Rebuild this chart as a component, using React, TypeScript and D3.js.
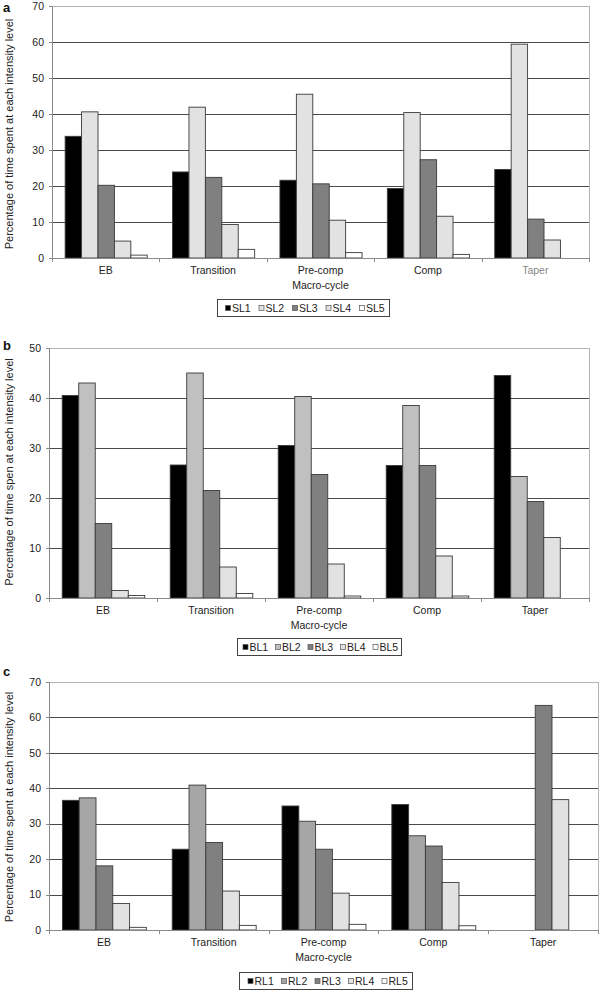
import React from "react";
import * as d3 from "d3";

const categories = ["EB", "Transition", "Pre-comp", "Comp", "Taper"];

const slLabels = ["SL1", "SL2", "SL3", "SL4", "SL5"];
const sl1 = [33.8, 23.9, 21.6, 19.3, 24.6];
const sl2 = [40.6, 41.9, 45.5, 40.4, 59.4];
const sl3 = [20.2, 22.4, 20.6, 27.3, 10.8];
const sl4 = [4.7, 9.3, 10.5, 11.6, 5.0];
const sl5 = [0.8, 2.4, 1.5, 1.0, 0];

const blLabels = ["BL1", "BL2", "BL3", "BL4", "BL5"];
const bl1 = [40.5, 26.6, 30.5, 26.5, 44.5];
const bl2 = [43.0, 45.0, 40.3, 38.5, 24.3];
const bl3 = [14.9, 21.5, 24.7, 26.5, 19.3];
const bl4 = [1.5, 6.2, 6.8, 8.4, 12.1];
const bl5 = [0.5, 0.9, 0.4, 0.4, 0];

const rlLabels = ["RL1", "RL2", "RL3", "RL4", "RL5"];
const rl1 = [36.6, 22.8, 35.0, 35.4, 0];
const rl2 = [37.3, 40.9, 30.7, 26.6, 0];
const rl3 = [18.1, 24.7, 22.8, 23.7, 63.4];
const rl4 = [7.5, 11.0, 10.4, 13.4, 36.8];
const rl5 = [0.75, 1.3, 1.6, 1.2, 0];

const yTicksA = [0, 10, 20, 30, 40, 50, 60, 70];
const yTicksB = [0, 10, 20, 30, 40, 50];
const yTicksC = [0, 10, 20, 30, 40, 50, 60, 70];

const FONT = "'Liberation Sans', Arial, sans-serif";

type PanelProps = {
  letter: string;
  yTitle: string;
  labels: string[];
  series: number[][];
  colors: string[];
  ticks: number[];
  left: number;
  right: number;
  top: number;
  bottom: number;
  legendX: number;
  legendW: number;
  legendY: number;
  legendPad: number;
  legendStep: number;
  titleY: number;
  letterY: number;
  taperColor: string;
};

function Panel(p: PanelProps) {
  const yMax = p.ticks[p.ticks.length - 1];
  const y = d3.scaleLinear().domain([0, yMax]).range([p.bottom, p.top]);
  const x = d3.scaleBand<string>().domain(categories).range([p.left, p.right]).padding(0);
  const xi = d3
    .scaleBand<string>()
    .domain(p.labels)
    .range([0, x.bandwidth()])
    .paddingInner(0)
    .paddingOuter(0.77);
  const cx = (p.left + p.right) / 2;
  return (
    <g>
      <text x={3} y={p.letterY} fontFamily={FONT} fontWeight="bold" fontSize={13} fill="#111">
        {p.letter}
      </text>
      <rect
        x={p.left + 0.5}
        y={Math.round(p.top) + 0.5}
        width={p.right - p.left}
        height={p.bottom - p.top}
        fill="white"
        stroke="#b5b5b5"
      />
      {p.ticks
        .filter((t) => t > 0 && t < yMax)
        .map((t) => (
          <line
            key={t}
            x1={p.left}
            x2={p.right}
            y1={Math.round(y(t)) + 0.5}
            y2={Math.round(y(t)) + 0.5}
            stroke="#4a4a4a"
            strokeWidth={1}
          />
        ))}
      {categories.map((c, ci) =>
        p.series.map((s, si) =>
          s[ci] > 0 ? (
            <rect
              key={c + si}
              x={(x(c) as number) + (xi(p.labels[si]) as number) + 0.5}
              y={y(s[ci])}
              width={xi.bandwidth()}
              height={p.bottom - y(s[ci])}
              fill={p.colors[si]}
              stroke="#3a3a3a"
              strokeWidth={0.9}
            />
          ) : null
        )
      )}
      <line x1={p.left + 0.5} x2={p.left + 0.5} y1={p.top} y2={p.bottom} stroke="#8a8a8a" />
      {p.ticks.map((t) => (
        <g key={"t" + t}>
          <line
            x1={p.left - 3}
            x2={p.left}
            y1={Math.round(y(t)) + 0.5}
            y2={Math.round(y(t)) + 0.5}
            stroke="#8a8a8a"
          />
          <text
            x={p.left - 8}
            y={y(t)}
            dy="0.35em"
            textAnchor="end"
            fontFamily={FONT}
            fontSize={10.5}
            fill="#222"
          >
            {t}
          </text>
        </g>
      ))}
      <line
        x1={p.left}
        x2={p.right + 1}
        y1={Math.round(p.bottom) + 0.5}
        y2={Math.round(p.bottom) + 0.5}
        stroke="#8a8a8a"
      />
      {[...categories.map((c) => x(c) as number), p.right].map((v, i) => (
        <line
          key={"xt" + i}
          x1={Math.round(v) + 0.5}
          x2={Math.round(v) + 0.5}
          y1={p.bottom}
          y2={p.bottom + 4}
          stroke="#8a8a8a"
        />
      ))}
      {categories.map((c) => (
        <text
          key={"xl" + c}
          x={(x(c) as number) + x.bandwidth() / 2}
          y={p.bottom + 16}
          textAnchor="middle"
          fontFamily={FONT}
          fontSize={10.5}
          fill={c === "Taper" ? p.taperColor : "#222"}
        >
          {c}
        </text>
      ))}
      <text
        x={cx}
        y={p.bottom + 31}
        textAnchor="middle"
        fontFamily={FONT}
        fontSize={10.5}
        fill="#222"
      >
        Macro-cycle
      </text>
      <text
        transform={`translate(13,${p.titleY}) rotate(-90)`}
        textAnchor="middle"
        fontFamily={FONT}
        fontSize={11}
        fill="#222"
      >
        {p.yTitle}
      </text>
      <rect
        x={p.legendX + 0.5}
        y={p.legendY + 0.5}
        width={p.legendW}
        height={17}
        fill="white"
        stroke="#444"
      />
      {p.labels.map((l, i) => (
        <g
          key={"lg" + l}
          transform={`translate(${p.legendX + p.legendPad + i * p.legendStep},${p.legendY + 9})`}
        >
          <rect x={0.5} y={-2.5} width={5} height={5} fill={p.colors[i]} stroke="#555" strokeWidth={0.7} />
          <text x={7} y={0} dy="0.35em" fontFamily={FONT} fontSize={10.5} fill="#222">
            {l}
          </text>
        </g>
      ))}
    </g>
  );
}

export default function App() {
  return (
    <svg
      width={600}
      height={993}
      style={{ position: "absolute", left: 0, top: 0, background: "white" }}
    >
      <rect width={600} height={993} fill="white" />
      <Panel
        letter="a"
        yTitle="Percentage of time spent at each intensity level"
        labels={slLabels}
        series={[sl1, sl2, sl3, sl4, sl5]}
        colors={["#000000", "#e2e2e2", "#808080", "#e2e2e2", "#ffffff"]}
        ticks={yTicksA}
        left={52}
        right={589}
        top={6}
        bottom={258}
        legendX={217}
        legendW={172}
        legendY={299}
        legendPad={8}
        legendStep={33.5}
        titleY={134}
        letterY={12}
        taperColor="#888"
      />
      <Panel
        letter="b"
        yTitle="Percentage of time spen at each intensity level"
        labels={blLabels}
        series={[bl1, bl2, bl3, bl4, bl5]}
        colors={["#000000", "#c0c0c0", "#808080", "#e2e2e2", "#ffffff"]}
        ticks={yTicksB}
        left={49}
        right={589}
        top={348}
        bottom={598}
        legendX={237}
        legendW={164}
        legendY={638}
        legendPad={5.5}
        legendStep={32.5}
        titleY={472}
        letterY={350}
        taperColor="#222"
      />
      <Panel
        letter="c"
        yTitle="Percentage of time spent at each intensity level"
        labels={rlLabels}
        series={[rl1, rl2, rl3, rl4, rl5]}
        colors={["#000000", "#a6a6a6", "#808080", "#e2e2e2", "#ffffff"]}
        ticks={yTicksC}
        left={49}
        right={598}
        top={682}
        bottom={930}
        legendX={239}
        legendW={173}
        legendY={972}
        legendPad={8.5}
        legendStep={33.5}
        titleY={807}
        letterY={676}
        taperColor="#222"
      />
    </svg>
  );
}
